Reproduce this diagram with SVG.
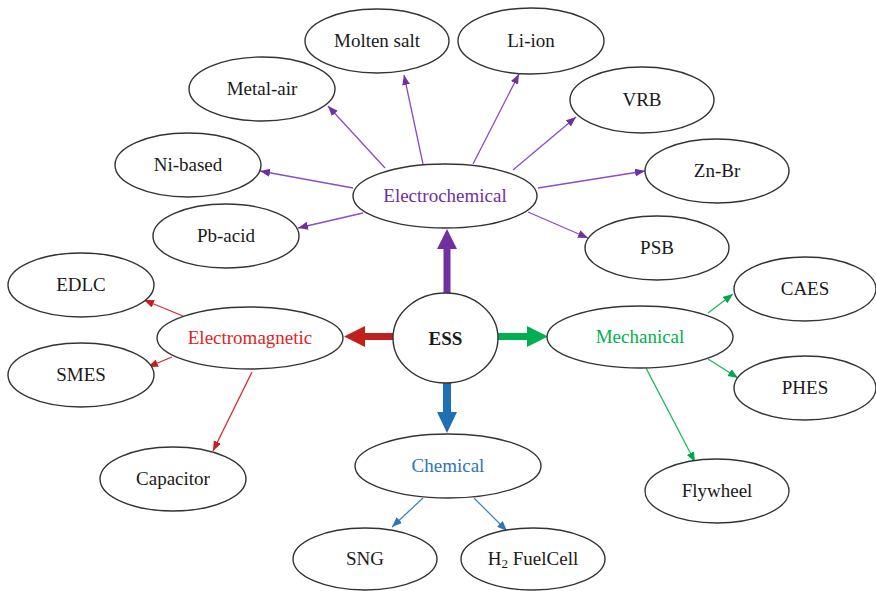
<svg xmlns="http://www.w3.org/2000/svg" width="876" height="591" viewBox="0 0 876 591">
  <style>
    .node ellipse { fill: #ffffff; stroke: #333333; stroke-width: 1.4; }
    text { font-family: "Liberation Serif", "Times New Roman", serif; font-size: 19px; text-anchor: middle; fill: #1a1a1a; }
    .purple { fill: #7030a0; }
    .red { fill: #e02424; }
    .green { fill: #00b050; }
    .blue { fill: #2e75b6; }
    .ln { stroke-width: 1.3; fill: none; }
    .lp { stroke: #8a4cc8; }
    .lr { stroke: #d62a2a; }
    .lg { stroke: #1ab85e; }
    .lb { stroke: #3a86c8; }
  </style>
  <defs>
    <marker id="ap" markerUnits="userSpaceOnUse" markerWidth="11" markerHeight="9" refX="10" refY="4" orient="auto">
      <path d="M0,0 L10,4 L0,8 z" fill="#7030a0"/>
    </marker>
    <marker id="ar" markerUnits="userSpaceOnUse" markerWidth="11" markerHeight="9" refX="10" refY="4" orient="auto">
      <path d="M0,0 L10,4 L0,8 z" fill="#c81e1e"/>
    </marker>
    <marker id="ag" markerUnits="userSpaceOnUse" markerWidth="11" markerHeight="9" refX="10" refY="4" orient="auto">
      <path d="M0,0 L10,4 L0,8 z" fill="#00a84c"/>
    </marker>
    <marker id="ab" markerUnits="userSpaceOnUse" markerWidth="11" markerHeight="9" refX="10" refY="4" orient="auto">
      <path d="M0,0 L10,4 L0,8 z" fill="#2e75b6"/>
    </marker>
  </defs>

  <!-- connectors -->
  <g id="connectors">
    <!-- thick arrows out of the centre -->
    <polygon points="443.5,293 450.5,293 450.5,249 457,249 447,229 437,249 443.5,249" fill="#7030a0"/>
    <polygon points="393,333 365,333 365,326 344,336.5 365,347 365,340 393,340" fill="#c0201c"/>
    <polygon points="498,333 527,333 527,326 548,336.5 527,347 527,340 498,340" fill="#00b050"/>
    <polygon points="443,383 451,383 451,412 457,412 447,433 437,412 443,412" fill="#1f6fb5"/>

    <!-- Electrochemical branches -->
    <line class="ln lp" x1="385" y1="168" x2="328" y2="106" marker-end="url(#ap)"/>
    <line class="ln lp" x1="423" y1="164" x2="404" y2="75" marker-end="url(#ap)"/>
    <line class="ln lp" x1="473" y1="164" x2="519" y2="74" marker-end="url(#ap)"/>
    <line class="ln lp" x1="513" y1="170" x2="576" y2="117" marker-end="url(#ap)"/>
    <line class="ln lp" x1="538" y1="188" x2="645" y2="171" marker-end="url(#ap)"/>
    <line class="ln lp" x1="528" y1="212" x2="588" y2="238" marker-end="url(#ap)"/>
    <line class="ln lp" x1="353" y1="188" x2="260" y2="171" marker-end="url(#ap)"/>
    <line class="ln lp" x1="363" y1="213" x2="298" y2="228" marker-end="url(#ap)"/>

    <!-- Electromagnetic branches -->
    <line class="ln lr" x1="183" y1="316" x2="144" y2="300" marker-end="url(#ar)"/>
    <line class="ln lr" x1="172" y1="357" x2="148" y2="367" marker-end="url(#ar)"/>
    <line class="ln lr" x1="252" y1="372" x2="213" y2="451" marker-end="url(#ar)"/>

    <!-- Mechanical branches -->
    <line class="ln lg" x1="708" y1="313" x2="733" y2="294" marker-end="url(#ag)"/>
    <line class="ln lg" x1="708" y1="359" x2="738" y2="378" marker-end="url(#ag)"/>
    <line class="ln lg" x1="646" y1="368" x2="695" y2="462" marker-end="url(#ag)"/>

    <!-- Chemical branches -->
    <line class="ln lb" x1="423" y1="498" x2="392" y2="527" marker-end="url(#ab)"/>
    <line class="ln lb" x1="474" y1="498" x2="507" y2="531" marker-end="url(#ab)"/>
  </g>

  <!-- centre -->
  <g id="ess" class="node">
    <ellipse cx="445.5" cy="338" rx="52.5" ry="45"/>
    <text x="445.5" y="345" font-weight="bold" font-size="18">ESS</text>
  </g>

  <!-- categories -->
  <g id="electrochemical" class="node">
    <ellipse cx="445" cy="196" rx="92" ry="32"/>
    <text x="445" y="202" class="purple">Electrochemical</text>
  </g>
  <g id="electromagnetic" class="node">
    <ellipse cx="250" cy="338" rx="93" ry="31"/>
    <text x="250" y="344" class="red">Electromagnetic</text>
  </g>
  <g id="mechanical" class="node">
    <ellipse cx="640" cy="337" rx="93" ry="31"/>
    <text x="640" y="343" class="green">Mechanical</text>
  </g>
  <g id="chemical" class="node">
    <ellipse cx="448" cy="466" rx="93" ry="32"/>
    <text x="448" y="472" class="blue">Chemical</text>
  </g>

  <!-- electrochemical technologies -->
  <g id="molten-salt" class="node">
    <ellipse cx="377" cy="41" rx="72" ry="32"/>
    <text x="377" y="47">Molten salt</text>
  </g>
  <g id="li-ion" class="node">
    <ellipse cx="531" cy="41" rx="73" ry="33"/>
    <text x="531" y="47">Li-ion</text>
  </g>
  <g id="metal-air" class="node">
    <ellipse cx="262" cy="89" rx="73" ry="32"/>
    <text x="262" y="95">Metal-air</text>
  </g>
  <g id="vrb" class="node">
    <ellipse cx="642" cy="100" rx="72" ry="33"/>
    <text x="642" y="106">VRB</text>
  </g>
  <g id="ni-based" class="node">
    <ellipse cx="188" cy="165" rx="73" ry="32"/>
    <text x="188" y="171">Ni-based</text>
  </g>
  <g id="zn-br" class="node">
    <ellipse cx="717" cy="171" rx="72" ry="32"/>
    <text x="717" y="177">Zn-Br</text>
  </g>
  <g id="pb-acid" class="node">
    <ellipse cx="226" cy="236" rx="73" ry="32"/>
    <text x="226" y="242">Pb-acid</text>
  </g>
  <g id="psb" class="node">
    <ellipse cx="657" cy="248" rx="72" ry="32"/>
    <text x="657" y="254">PSB</text>
  </g>

  <!-- electromagnetic technologies -->
  <g id="edlc" class="node">
    <ellipse cx="81" cy="285" rx="73" ry="32"/>
    <text x="81" y="291">EDLC</text>
  </g>
  <g id="smes" class="node">
    <ellipse cx="81" cy="375" rx="73" ry="32"/>
    <text x="81" y="381">SMES</text>
  </g>
  <g id="capacitor" class="node">
    <ellipse cx="173" cy="479" rx="73" ry="32"/>
    <text x="173" y="485">Capacitor</text>
  </g>

  <!-- mechanical technologies -->
  <g id="caes" class="node">
    <ellipse cx="805" cy="289" rx="71" ry="32"/>
    <text x="805" y="295">CAES</text>
  </g>
  <g id="phes" class="node">
    <ellipse cx="805" cy="388" rx="71" ry="32"/>
    <text x="805" y="394">PHES</text>
  </g>
  <g id="flywheel" class="node">
    <ellipse cx="717" cy="491" rx="72" ry="32"/>
    <text x="717" y="497">Flywheel</text>
  </g>

  <!-- chemical technologies -->
  <g id="sng" class="node">
    <ellipse cx="365" cy="559" rx="72" ry="31"/>
    <text x="365" y="565">SNG</text>
  </g>
  <g id="h2-fuelcell" class="node">
    <ellipse cx="533" cy="559" rx="72" ry="31"/>
    <text x="533" y="565">H<tspan font-size="13" dy="3">2</tspan><tspan dy="-3"> FuelCell</tspan></text>
  </g>
</svg>
